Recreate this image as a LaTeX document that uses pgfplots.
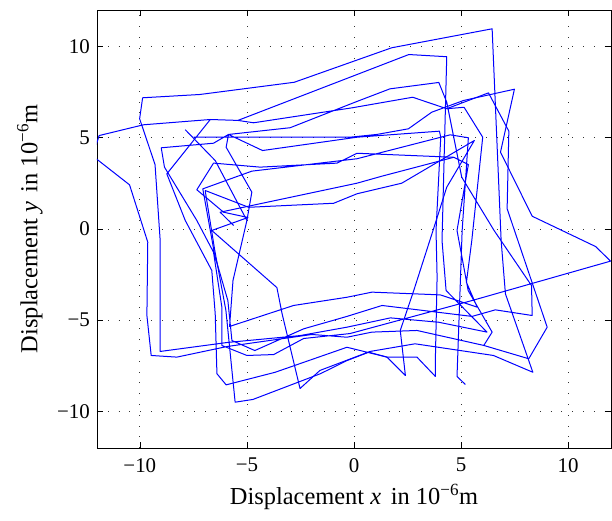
\documentclass[border=0pt]{standalone}
\usepackage{fontspec}
\setmainfont{Liberation Serif}
\usepackage{pgfplots}
\pgfplotsset{compat=1.18}
\tikzset{trace/.style={blue, line width=1.0bp, line join=round, no markers}}
\begin{document}
\fontsize{21}{25}\selectfont
\begin{tikzpicture}
\begin{axis}[
  scale only axis, width=514bp, height=438bp,
  xmin=-12, xmax=12, ymin=-12, ymax=12,
  xtick={-10,-5,0,5,10}, ytick={-10,-5,0,5,10},
  xticklabels={−10,−5,0,5,10}, yticklabels={−10,−5,0,5,10},
  tick align=inside, major tick length=6bp,
  tick style={black, line width=0.6bp},
  axis line style={line width=0.6bp},
  grid=major,
  major grid style={black!80, line width=0.8bp, dash pattern=on 0.8bp off 10bp},
  tick label style={font=\fontsize{21}{25}\selectfont},
  xticklabel style={yshift=-3bp},
  label style={font=\fontsize{24.5}{29}\selectfont},
  xlabel={Displacement \textit{x}\hspace{0.4em}in 10\textsuperscript{−6}m},
  ylabel={Displacement \textit{y}\hspace{0.4em}in 10\textsuperscript{−6}m},
  xlabel style={at={(axis description cs:0.5,-0.1119)}, anchor=center},
  ylabel style={at={(axis description cs:-0.1304,0.5)}, anchor=center},
]
\addplot[trace] coordinates {
(-7.49,5.03) (-0.19,5.03) (1.06,5.18) (2.54,5.49) (3.63,6.40)
(5.11,7.04) (7.49,7.66) (6.84,4.21) (8.32,0.70) (11.28,-0.96) (11.98,-1.76)
(5.51,-3.92) (-0.19,-5.73) (-2.35,-6.00) (-3.75,-6.88) (-5.00,-6.93) (-6.17,-6.38)
(-6.17,-4.28) (-6.56,-1.27) (-7.34,0.47) (-8.85,3.39) (-9.00,4.45) (-6.56,4.70)
(-5.86,5.18) (-4.27,4.30) (0.14,5.03) (3.99,5.36) (4.05,5.03) (3.83,-0.08)
(3.88,-2.64) (3.80,-7.11) (3.80,-8.08) (2.94,-7.02) (1.54,-7.02) (-0.33,-6.48)
(-3.68,-7.85) (-5.97,-8.54) (-6.40,-7.93) (-6.48,-4.65) (-6.64,-2.27) (-7.88,0.47)
(-8.74,3.02) (-6.71,6.00) (-5.42,5.95) (-0.09,8.36) (2.56,9.56) (4.33,9.44)
(4.11,-0.63) (4.30,-3.37) (6.21,-5.65) (3.96,-5.11) (1.70,-4.87) (-0.33,-5.38)
(-2.52,-5.84) (-5.93,-6.22) (-9.05,-6.71) (-9.05,-0.63) (-9.29,3.53) (-10.01,6.04)
(-9.87,7.19) (-7.20,7.37) (-2.79,8.04) (1.76,9.93) (6.45,10.97) (6.87,-0.63)
(7.07,-3.55) (8.35,-7.85) (6.51,-6.93) (2.85,-6.29) (0.75,-6.71) (-1.59,-7.75)
(-2.52,-8.74) (-3.36,-4.63) (-3.60,-3.21) (-6.64,-0.08) (-4.95,0.63) (-6.09,0.92)
(-7.34,2.15) (-6.56,3.61) (-4.38,3.39) (-0.79,3.61) (0.14,4.15) (4.66,3.93)
(5.34,3.53) (4.81,-0.08) (5.33,-3.37) (6.45,-5.65) (6.06,-6.38) (2.94,-5.56)
(0.84,-5.65) (-0.33,-5.93) (-1.96,-5.78) (-5.93,-6.44) (-8.27,-7.02) (-9.47,-6.93)
(-9.67,-4.74) (-9.63,-0.72) (-10.48,2.42) (-12.20,4.00) (-11.90,5.12) (-9.83,5.71)
(-6.71,6.00) (-5.42,5.95) (-4.69,5.82) (-0.09,6.64) (2.74,7.22) (4.33,6.59)
(5.14,6.67) (6.01,5.03) (5.50,-0.63) (5.25,-2.92) (5.75,-4.28) (4.03,-3.61)
(0.84,-3.46) (-0.33,-3.74) (-2.82,-4.19) (-5.81,-5.34) (-5.65,-2.82) (-5.00,0.47)
(-4.77,2.02) (-5.97,4.48) (-5.86,5.18) (-2.98,5.55) (0.14,6.99) (1.68,7.68)
(3.96,8.03) (4.33,6.95) (5.03,2.84) (6.54,-0.08) (8.29,-3.10) (8.32,-4.74)
(6.60,-4.43) (5.51,-4.79) (1.31,-4.19) (-0.33,-4.79) (-2.35,-5.47) (-4.63,-6.66)
(-5.70,-6.11) (-5.89,-3.92) (-6.50,-1.45) (-7.06,2.20) (-4.77,3.17) (0.14,3.85)
(4.49,5.16) (5.34,5.00) (5.05,-0.08) (4.81,-8.08) (5.20,-8.52)
};
\addplot[trace] coordinates {
(-6.95,2.11) (-4.92,1.19) (-0.95,1.41) (0.14,1.93) (2.23,2.51) (5.62,4.85)
(4.33,2.29) (3.69,-0.08) (2.79,-3.37) (2.16,-5.56) (2.40,-8.03) (1.54,-7.02)
(0.69,-6.75) (-0.33,-7.21) (-1.57,-7.93) (-4.72,-9.34) (-5.55,-9.49) (-5.70,-7.75)
(-5.98,-4.47) (-6.50,-1.18) (-6.95,2.11)
};
\addplot[trace] coordinates {
(-5.62,0.19) (-6.25,0.92) (0.14,2.51) (1.29,2.89) (4.66,3.93)
};
\addplot[trace] coordinates {
(-7.88,5.44) (-6.48,3.75) (-5.00,0.47)
};
\addplot[trace] coordinates {
(4.33,6.59) (6.28,7.46) (7.23,5.36) (7.15,1.11) (9.02,-5.38) (8.16,-7.11) (6.06,-6.38)
};
\end{axis}
\pgfresetboundingbox
\path (current axis.south west) ++(-97bp,-73bp) rectangle ++(612bp,521bp);
\end{tikzpicture}
\end{document}
